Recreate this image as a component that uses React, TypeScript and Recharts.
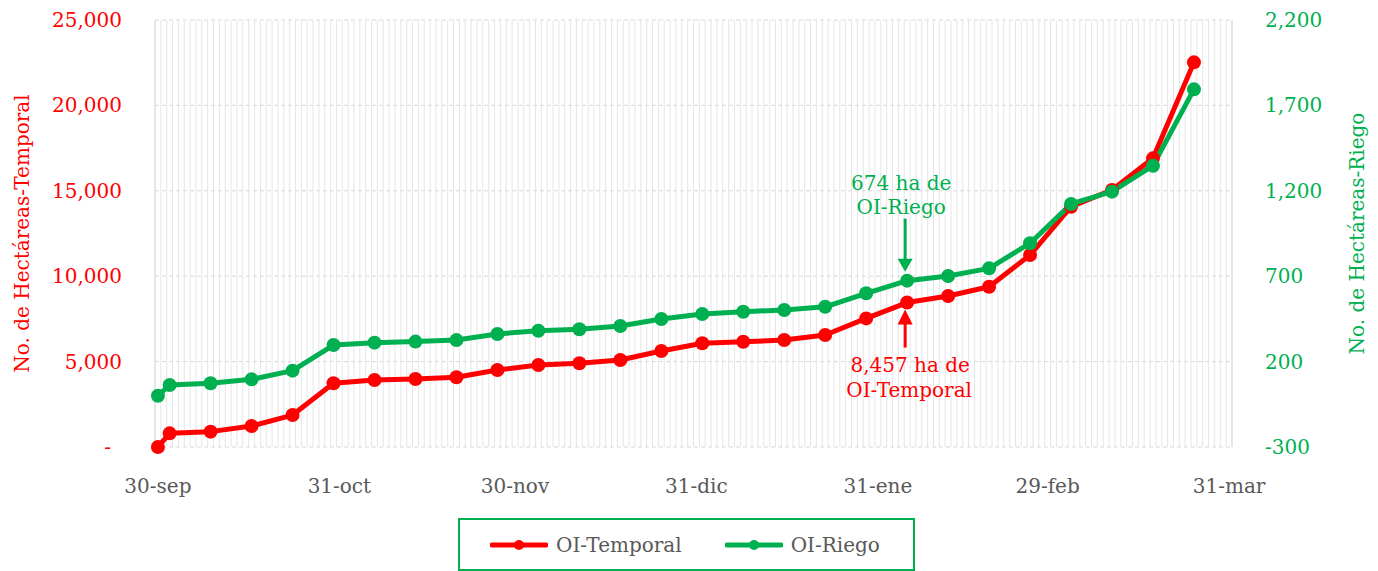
import {
  LineChart,
  Line,
  XAxis,
  YAxis,
  CartesianGrid,
  Legend,
  ReferenceDot,
  Label,
} from "recharts";

const FONT = "'DejaVu Serif', serif";
const ROJO = "#ff0000";
const VERDE = "#00b050";
const GRIS = "#595959";
const GRID = "#d9d9d9";
const GRID_MENOR = "#e6e6e6";

// días transcurridos desde el 30-sep
const dias = [
  0, 2, 9, 16, 23, 30, 37, 44, 51, 58, 65, 72, 79, 86, 93, 100, 107, 114, 121,
  128, 135, 142, 149, 156, 163, 170, 177,
];
const temporal = [
  0, 800, 900, 1230, 1870, 3730, 3920, 3980, 4080, 4510, 4800, 4900, 5090,
  5620, 6070, 6160, 6265, 6560, 7530, 8457, 8840, 9385, 11240, 14070, 15050,
  16900, 22520,
];
const riego = [
  0, 63, 73, 96, 147, 297, 311, 317, 326, 362, 381, 389, 408, 449, 479, 492,
  502, 521, 600, 674, 701, 746, 893, 1123, 1195, 1347, 1794,
];

const series = ["OI-Temporal", "OI-Riego"];
const mesesDia = [0, 31, 61, 92, 123, 152, 183];
const mesesEtiqueta = ["30-sep", "31-oct", "30-nov", "31-dic", "31-ene", "29-feb", "31-mar"];
const ticksTemporal = [0, 5000, 10000, 15000, 20000, 25000];
const ticksRiego = [-300, 200, 700, 1200, 1700, 2200];
const totalDias = 184;
const diasMenores = Array.from({ length: totalDias + 1 }, (_, i) => i);

const data = dias.map((d, i) => ({
  x: d + 0.5,
  temporal: temporal[i],
  riego: riego[i],
}));
const idxAnot = 19;

const fmt = (v: number) => v.toLocaleString("en-US");

function TickTemporal(props: any) {
  const { x, y, payload } = props;
  const v = payload.value as number;
  return (
    <text x={v === 0 ? x - 11 : x} y={y} dy={7} textAnchor="end" fill={ROJO} fontSize={20} fontFamily={FONT}>
      {v === 0 ? "-" : fmt(v)}
    </text>
  );
}

function TickRiego(props: any) {
  const { x, y, payload } = props;
  return (
    <text x={x} y={y} dy={7} textAnchor="start" fill={VERDE} fontSize={20} fontFamily={FONT}>
      {fmt(payload.value)}
    </text>
  );
}

function AnotRiego(p: any) {
  const { cx, cy } = p;
  const ax = cx - 2;
  return (
    <g>
      <line x1={ax} y1={cy - 62} x2={ax} y2={cy - 21} stroke={VERDE} strokeWidth={3} />
      <polygon points={`${ax - 7.5},${cy - 22} ${ax + 7.5},${cy - 22} ${ax},${cy - 9}`} fill={VERDE} />
      <text x={cx - 6} y={cy - 91} textAnchor="middle" fill={VERDE} fontSize={20} fontFamily={FONT}>
        674 ha de
      </text>
      <text x={cx - 6} y={cy - 67} textAnchor="middle" fill={VERDE} fontSize={20} fontFamily={FONT}>
        OI-Riego
      </text>
    </g>
  );
}

function AnotTemporal(p: any) {
  const { cx, cy } = p;
  const ax = cx - 2;
  return (
    <g>
      <line x1={ax} y1={cy + 45} x2={ax} y2={cy + 20} stroke={ROJO} strokeWidth={3} />
      <polygon points={`${ax - 7.5},${cy + 22} ${ax + 7.5},${cy + 22} ${ax},${cy + 7}`} fill={ROJO} />
      <text x={cx + 3} y={cy + 69} textAnchor="middle" fill={ROJO} fontSize={20} fontFamily={FONT}>
        8,457 ha de
      </text>
      <text x={cx + 2} y={cy + 94} textAnchor="middle" fill={ROJO} fontSize={20} fontFamily={FONT}>
        OI-Temporal
      </text>
    </g>
  );
}

function Leyenda(props: any) {
  const items = [...(props.payload || [])].sort(
    (a: any, b: any) => series.indexOf(a.value) - series.indexOf(b.value)
  );
  return (
    <div
      style={{
        boxSizing: "border-box",
        width: 457,
        height: 53,
        border: `2px solid ${VERDE}`,
        display: "flex",
        alignItems: "center",
        paddingLeft: 30,
        fontFamily: FONT,
        fontSize: 20,
        color: GRIS,
      }}
    >
      {items.map((it: any, i: number) => (
        <div key={i} style={{ display: "flex", alignItems: "center", marginRight: i === 0 ? 43 : 0 }}>
          <svg width={58} height={14} style={{ marginRight: 8 }}>
            <line x1={2} y1={7} x2={56} y2={7} stroke={it.color} strokeWidth={5} strokeLinecap="round" />
            <circle cx={29} cy={7} r={5} fill={it.color} />
          </svg>
          <span>{it.value}</span>
        </div>
      ))}
    </div>
  );
}

const tituloY = (texto: string, color: string, dx: number) => (props: any) => {
  const vb = props.viewBox;
  const cx = vb.x + dx;
  const cy = vb.y + vb.height / 2;
  return (
    <text
      transform={`translate(${cx},${cy}) rotate(-90)`}
      textAnchor="middle"
      dominantBaseline="central"
      fill={color}
      fontSize={20}
      fontFamily={FONT}
    >
      {texto}
    </text>
  );
};

export default function App() {
  return (
    <div style={{ position: "absolute", left: 0, top: 0, background: "#fff" }}>
      <LineChart width={1378} height={571} data={data} margin={{ top: 20, right: 0, bottom: 0, left: 0 }}>
        <XAxis
          xAxisId="menor"
          type="number"
          dataKey="x"
          domain={[0, totalDias]}
          ticks={diasMenores}
          interval={0}
          hide
        />
        <XAxis
          xAxisId="mayor"
          type="number"
          dataKey="x"
          domain={[0, totalDias]}
          ticks={mesesDia}
          tick={false}
          height={0}
          tickSize={8}
          stroke={GRID}
          interval={0}
        />
        <XAxis
          type="number"
          dataKey="x"
          domain={[0, totalDias]}
          ticks={mesesDia.map((d) => d + 0.5)}
          tickFormatter={(v) => mesesEtiqueta[mesesDia.indexOf(v - 0.5)]}
          interval={0}
          height={124}
          axisLine={false}
          tickLine={false}
          tickSize={8}
          tickMargin={24}
          tick={{ fill: GRIS, fontSize: 20, fontFamily: FONT }}
        />
        <YAxis
          yAxisId="left"
          domain={[0, 25000]}
          ticks={ticksTemporal}
          width={155}
          axisLine={false}
          tickLine={false}
          tickSize={0}
          tickMargin={33}
          tick={<TickTemporal />}
          interval={0}
        >
          <Label content={tituloY("No. de Hectáreas-Temporal", ROJO, 22)} />
        </YAxis>
        <YAxis
          yAxisId="right"
          orientation="right"
          domain={[-300, 2200]}
          ticks={ticksRiego}
          width={146}
          axisLine={false}
          tickLine={false}
          tickSize={0}
          tickMargin={33}
          tick={<TickRiego />}
          interval={0}
        >
          <Label content={tituloY("No. de Hectáreas-Riego", VERDE, 125)} />
        </YAxis>
        <CartesianGrid xAxisId="menor" yAxisId="left" horizontal={false} stroke={GRID_MENOR} />
        <CartesianGrid xAxisId="mayor" yAxisId="left" horizontal={false} stroke={GRID} />
        <CartesianGrid xAxisId="mayor" yAxisId="left" vertical={false} stroke={GRID} strokeDasharray="4 3" />
        <Legend
          verticalAlign="middle"
          align="center"
          content={<Leyenda />}
          wrapperStyle={{ left: 458, top: 518, width: 457, height: 53 }}
        />
        <Line
          yAxisId="left"
          dataKey="temporal"
          name="OI-Temporal"
          stroke={ROJO}
          strokeWidth={5}
          strokeLinejoin="round"
          dot={{ r: 7, fill: ROJO, stroke: ROJO, strokeWidth: 0 }}
          activeDot={false}
          isAnimationActive={false}
        />
        <Line
          yAxisId="right"
          dataKey="riego"
          name="OI-Riego"
          stroke={VERDE}
          strokeWidth={5}
          strokeLinejoin="round"
          dot={{ r: 7, fill: VERDE, stroke: VERDE, strokeWidth: 0 }}
          activeDot={false}
          isAnimationActive={false}
        />
        <ReferenceDot
          yAxisId="right"
          x={data[idxAnot].x}
          y={riego[idxAnot]}
          shape={<AnotRiego />}
        />
        <ReferenceDot
          yAxisId="left"
          x={data[idxAnot].x}
          y={temporal[idxAnot]}
          shape={<AnotTemporal />}
        />
      </LineChart>
    </div>
  );
}
